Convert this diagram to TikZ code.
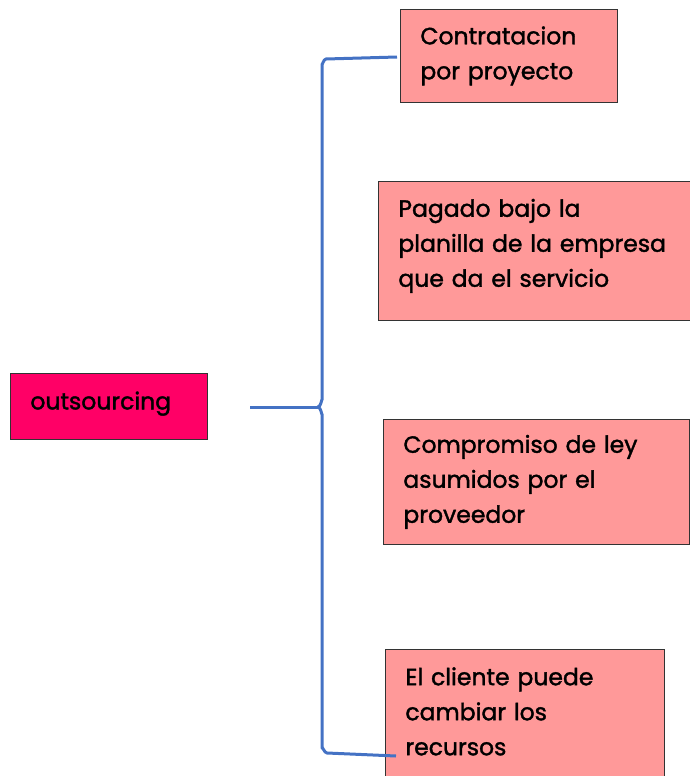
\documentclass[tikz,border=0pt]{standalone}
\usepackage{fontspec}
\setmainfont{Poppins}
\newfontfamily\medfont{Poppins}[FakeBold=1.5]
\definecolor{hot}{HTML}{FF0066}
\definecolor{salmon}{HTML}{FF9999}
\definecolor{brace}{HTML}{4472C4}
\begin{document}
\begin{tikzpicture}[x=1pt,y=-1pt,
  box/.style={draw=black!80,line width=0.8pt,fill=salmon,anchor=north west,inner xsep=20pt,inner ysep=0pt,align=left,
    font=\medfont\fontsize{23.5}{35}\selectfont,text=black},
  bline/.style={draw=brace,line width=3pt,line join=round,line cap=butt}]
\useasboundingbox (0,0) rectangle (690,776);
\node[box,fill=hot,minimum width=197pt,minimum height=66pt,text width=157pt] (out) at (10,373) {\raisebox{-3pt}[0pt][0pt]{outsourcing}};
\node[box,minimum width=217pt,minimum height=93pt,text width=177pt] (c1) at (400,9) {Contratacion\\por proyecto};
\node[box,minimum width=312pt,minimum height=139pt,text width=272pt] (c2) at (378,181) {\raisebox{5pt}[\height][\depth]{\parbox{272pt}{\raggedright Pagado bajo la\\planilla de la empresa\\que da el servicio}}};
\node[box,minimum width=306pt,minimum height=125pt,text width=266pt] (c3) at (383,419) {Compromiso de ley\\asumidos por el\\proveedor};
\node[box,minimum width=279pt,minimum height=128pt,text width=239pt] (c4) at (385,649) {\raisebox{2pt}[\height][\depth]{\parbox{239pt}{\raggedright El cliente puede\\cambiar los\\recursos}}};
\coordinate (src) at (250,407);
\coordinate (tip) at (318,407);
\coordinate (top) at (397,57);
\coordinate (bot) at (396,756);
\draw[bline] (src) -- (tip);
\draw[bline] (top) -- (326,59) to[out=180,in=-90] (322,64) -- (322,400) to[out=90,in=0] (tip) to[out=0,in=-90] (322,414) -- (322,748) to[out=90,in=180] (327,753) -- (bot);
\end{tikzpicture}
\end{document}
